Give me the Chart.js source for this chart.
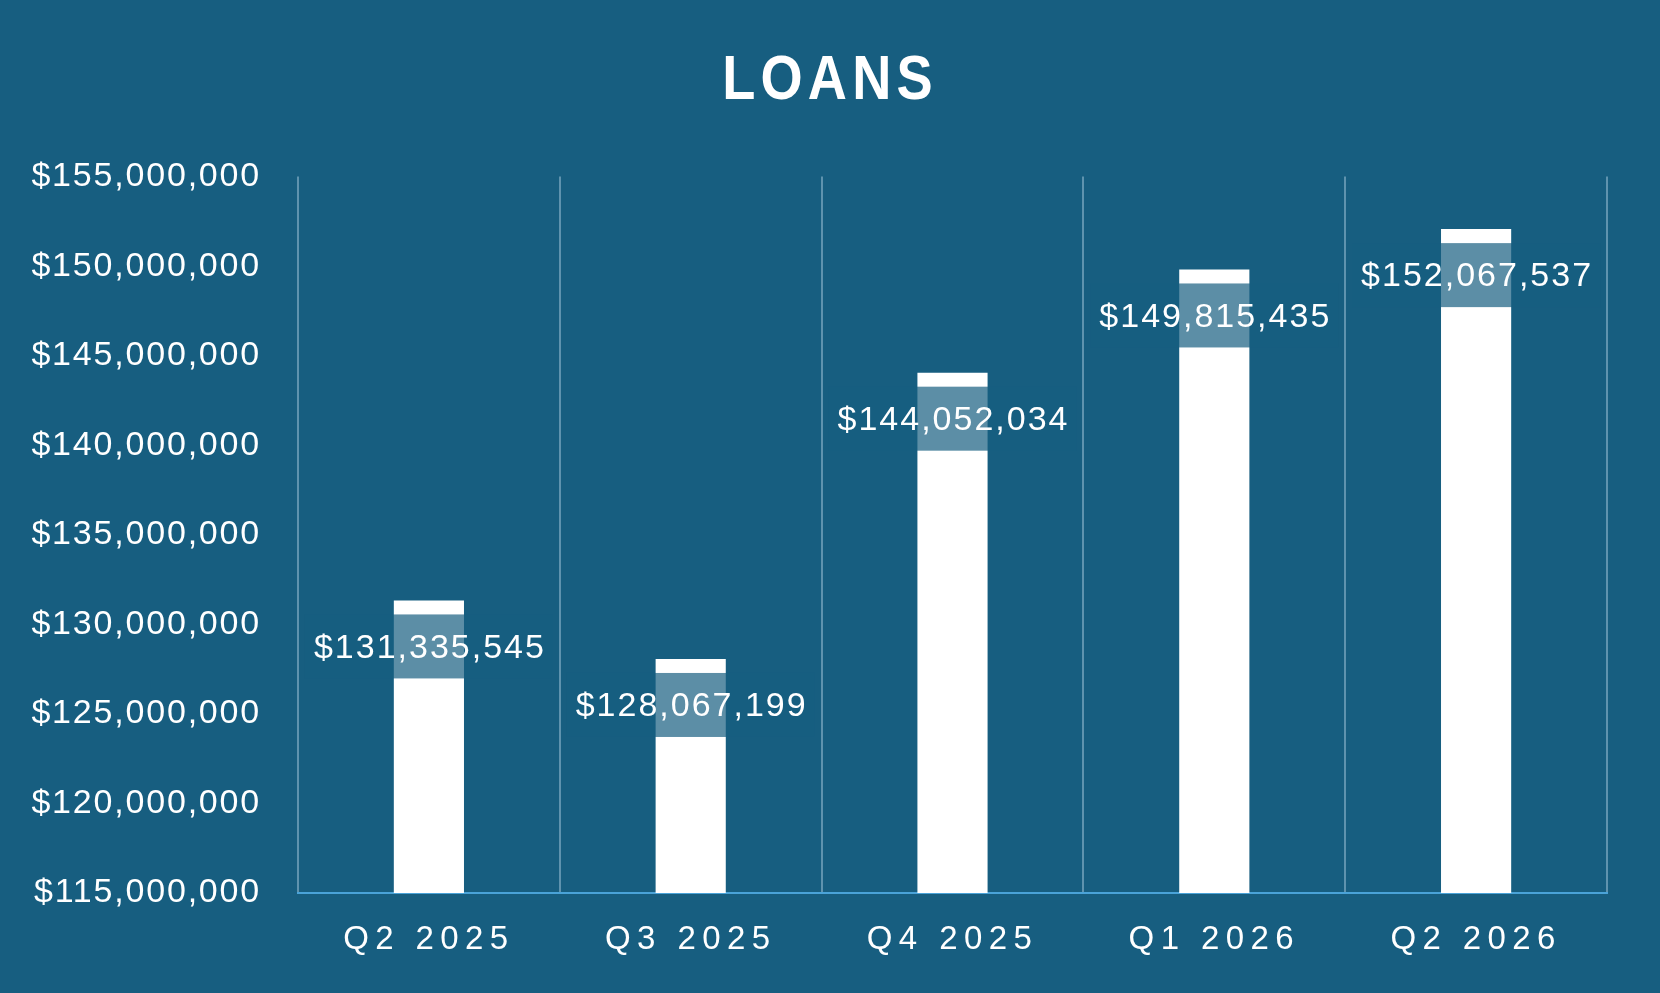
<!DOCTYPE html>
<html>
<head>
<meta charset="utf-8">
<title>Loans</title>
<script src="https://cdn.jsdelivr.net/npm/chart.js@4.4.1/dist/chart.umd.min.js"></script>
<style>
  html, body { margin: 0; padding: 0; background: #175e80; overflow: hidden; }
  #wrap { width: 1660px; height: 993px; }
</style>
</head>
<body>
<div id="wrap"><canvas id="loansChart" width="1660" height="993"></canvas></div>
<script>
// data
const quarters = ['Q2 2025', 'Q3 2025', 'Q4 2025', 'Q1 2026', 'Q2 2026'];
const loanTotals = [131335545, 128067199, 144052034, 149815435, 152067537];
const yMin = 115000000;
const yMax = 155000000;
const yStep = 5000000;

const fontName = '"Liberation Sans", Arial, sans-serif';

function money(v) {
    return '$' + Number(v).toLocaleString('en-US');
}

// canvas letterSpacing for one draw method
function wrapSpacing(obj, method, spacing) {
    const orig = obj[method];
    obj[method] = function () {
        this.ctx.save();
        this.ctx.letterSpacing = spacing;
        orig.apply(this, arguments);
        this.ctx.restore();
    };
}

const spacedText = {
    id: 'spacedText',
    beforeDraw(chart) {
        if (chart.$spaced) return;
        chart.$spaced = true;
        wrapSpacing(chart.scales.x, 'drawLabels', '6.4px');
        wrapSpacing(chart.scales.y, 'drawLabels', '1.8px');

        // title: centred on the whole canvas, a bit condensed
        const title = chart.titleBlock;
        const origDraw = title.draw;
        title.draw = function () {
            const c = this.ctx;
            const boxMid = (this.left + this.right) / 2;
            c.save();
            c.letterSpacing = '6px';
            c.translate(chart.width / 2, 0);
            c.scale(0.86, 1);
            c.translate(-boxMid, 0);
            origDraw.apply(this, arguments);
            c.restore();
        };
    }
};

// value label with a see-through box in the background colour
const valueLabels = {
    id: 'valueLabels',
    afterDatasetsDraw(chart) {
        const ctx = chart.ctx;
        const meta = chart.getDatasetMeta(0);
        ctx.save();
        ctx.font = '34px ' + fontName;
        ctx.letterSpacing = '2px';
        ctx.textAlign = 'center';
        ctx.textBaseline = 'middle';
        meta.data.forEach((bar, i) => {
            const text = money(loanTotals[i]);
            const w = ctx.measureText(text).width + 16;
            const cy = bar.y + 46;
            ctx.fillStyle = 'rgba(23, 94, 128, 0.7)';
            ctx.fillRect(bar.x - w / 2, cy - 32, w, 64);
            ctx.fillStyle = '#ffffff';
            ctx.fillText(text, bar.x + 1, cy + 2);
        });
        ctx.restore();
    }
};

const ctx = document.getElementById('loansChart');
const loansChart = new Chart(ctx, {
    type: 'bar',
    data: {
        labels: quarters,
        datasets: [{
            label: 'Loans',
            data: loanTotals,
            backgroundColor: '#ffffff',
            borderWidth: 0,
            barPercentage: 0.268,
            categoryPercentage: 1.0
        }]
    },
    options: {
        responsive: false,
        animation: false,
        devicePixelRatio: 1,
        layout: {
            padding: { left: 0, right: 53, top: 0, bottom: 0 }
        },
        plugins: {
            legend: { display: false },
            tooltip: { enabled: false },
            title: {
                display: true,
                text: 'LOANS',
                color: '#ffffff',
                font: { family: fontName, size: 63, weight: 'bold' },
                padding: { top: 44, bottom: 57 }
            }
        },
        scales: {
            x: {
                grid: {
                    display: true,
                    offset: true,
                    color: '#5f93ae',
                    lineWidth: 2,
                    drawTicks: false
                },
                border: { display: true, color: '#4aa3d8', width: 2 },
                ticks: {
                    color: '#ffffff',
                    font: { family: fontName, size: 33 },
                    padding: 27
                },
                afterFit(scale) {
                    scale.height = 100;
                }
            },
            y: {
                min: yMin,
                max: yMax,
                grid: { display: false, drawTicks: false },
                border: { display: false },
                ticks: {
                    stepSize: yStep,
                    color: '#ffffff',
                    font: { family: fontName, size: 34 },
                    padding: 37,
                    callback: (v) => money(v)
                },
                afterFit(scale) {
                    scale.width = 298;
                }
            }
        }
    },
    plugins: [spacedText, valueLabels]
});
loansChart.draw();
</script>
</body>
</html>
